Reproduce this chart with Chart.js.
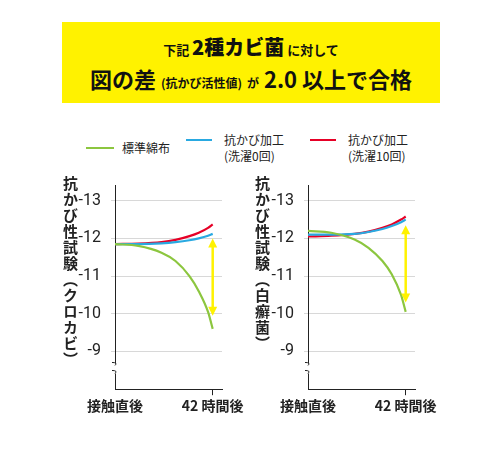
<!DOCTYPE html>
<html><head><meta charset="utf-8">
<script src="https://cdn.jsdelivr.net/npm/chart.js@4"></script>
<style>
body{margin:0;width:500px;height:455px;background:#fff;font-family:"Noto Sans CJK JP",sans-serif;position:relative;overflow:hidden}
.box{position:absolute;left:62px;top:22px;width:378px;height:81px;background:#fff200;text-align:center;font-weight:bold;color:#111}
.l1{position:absolute;top:10px;width:100%;font-size:13px}
.l1 b{font-size:20px}
.l2{position:absolute;top:40px;width:100%;font-size:22px}
.l2 small{font-size:12px}
.leg{position:absolute;font-size:12px;color:#222;line-height:16px}
.leg i{position:absolute;left:0;top:7px;width:26px;height:2px}
.vt{position:absolute;writing-mode:vertical-rl;font-size:15px;font-weight:bold;color:#222;letter-spacing:1px}
canvas{position:absolute}
</style></head><body>
<div class="box">
<div class="l1">下記 <b>2種カビ菌</b> に対して</div>
<div class="l2">図の差 <small>(抗かび活性値)</small> <small>が</small> 2.0 以上で合格</div>
</div>
<div class="leg" style="left:88px;top:140px"><i style="background:#8cc63f;left:-2px;top:7px;width:28px"></i><span style="margin-left:34px">標準綿布</span></div>
<div class="leg" style="left:186px;top:132px"><i style="background:#29a9e1;left:0;top:7px"></i><span style="display:block;margin-left:38px">抗かび加工<br>(洗濯0回)</span></div>
<div class="leg" style="left:310px;top:132px"><i style="background:#e60026;left:0;top:7px"></i><span style="display:block;margin-left:38px">抗かび加工<br>(洗濯10回)</span></div>
<canvas id="c1" width="215" height="250" style="left:55px;top:166px;width:215px;height:250px"></canvas>
<canvas id="c2" width="215" height="250" style="left:248px;top:166px;width:215px;height:250px"></canvas>
<div class="vt" style="left:60px;top:176px">抗かび性試験（クロカビ）</div>
<div class="vt" style="left:252px;top:176px">抗かび性試験（白癬菌）</div>
<script>
const hours = [0, 10, 20, 26, 32, 36, 40, 42];
const xTicks = [0, 42];
const xTickLabels = {0: "接触直後", 42: "42 時間後"};
const yTicks = [-13, -12, -11, -10, -9];

const kuroGreen = [-11.85, -11.8, -11.62, -11.4, -11.0, -10.6, -10.05, -9.6];
const kuroBlue = [-11.85, -11.85, -11.87, -11.9, -11.95, -12.0, -12.07, -12.12];
const kuroRed = [-11.85, -11.86, -11.9, -11.96, -12.06, -12.15, -12.28, -12.37];
const kuroArrow = [-12.0, -9.95];

const hakuGreen = [-12.2, -12.15, -11.97, -11.75, -11.4, -11.05, -10.5, -10.05];
const hakuBlue = [-12.1, -12.1, -12.12, -12.17, -12.25, -12.33, -12.43, -12.5];
const hakuRed = [-12.05, -12.07, -12.12, -12.18, -12.28, -12.37, -12.5, -12.58];
const hakuArrow = [-12.35, -10.3];

const pts = arr => arr.map((v, i) => ({x: hours[i], y: v}));

const extras = {
  id: "extras",
  afterDatasetsDraw(chart, args, opts) {
    const {ctx} = chart;
    const xs = chart.scales.x, ys = chart.scales.y;
    const x = xs.getPixelForValue(42);
    const y1 = ys.getPixelForValue(opts.arrow[0]), y2 = ys.getPixelForValue(opts.arrow[1]);
    ctx.save();
    ctx.strokeStyle = "#fff200"; ctx.fillStyle = "#fff200"; ctx.lineWidth = 2.5;
    ctx.beginPath(); ctx.moveTo(x, y1 + 4); ctx.lineTo(x, y2 - 4); ctx.stroke();
    [[y1, 1], [y2, -1]].forEach(([y, d]) => {
      ctx.beginPath(); ctx.moveTo(x, y); ctx.lineTo(x - 4.5, y + 9 * d); ctx.lineTo(x + 4.5, y + 9 * d); ctx.closePath(); ctx.fill();
    });
    // axis break
    const ax = xs.left, by = ys.getPixelForValue(-8.55);
    ctx.fillStyle = "#fff"; ctx.fillRect(ax - 3, by - 5, 6, 10);
    ctx.strokeStyle = "#222"; ctx.lineWidth = 1;
    [by - 4, by + 4].forEach(y => { ctx.beginPath(); ctx.moveTo(ax - 3, y - 2); ctx.quadraticCurveTo(ax + 3, y - 2, ax, y + 1); ctx.stroke(); });
    ctx.restore();
  }
};

function draw(id, g, b, r, arrow) {
  new Chart(document.getElementById(id), {
    type: "line",
    data: {datasets: [
      {data: pts(g), borderColor: "#8cc63f"},
      {data: pts(b), borderColor: "#29a9e1"},
      {data: pts(r), borderColor: "#e60026"}
    ]},
    options: {
      animation: false, responsive: false,
      layout: {padding: {top: 8, right: 48}},
      elements: {point: {radius: 0}, line: {borderWidth: 2.2, cubicInterpolationMode: "monotone"}},
      plugins: {legend: {display: false}, tooltip: {enabled: false}, extras: {arrow}},
      scales: {
        x: {type: "linear", min: 0, max: 46,
          afterBuildTicks: s => { s.ticks = xTicks.map(v => ({value: v})); },
          ticks: {callback: v => xTickLabels[v], color: "#222", font: {size: 14, weight: "bold", family: "Noto Sans CJK JP"}, maxRotation: 0, padding: 2},
          grid: {display: true, drawOnChartArea: false, tickLength: 6, color: c => c.tick && c.tick.value === 42 ? "#222" : "rgba(0,0,0,0)"},
          border: {color: "#222", width: 1}},
        y: {reverse: true, min: -13.4, max: -8,
          afterBuildTicks: s => { s.ticks = yTicks.map(v => ({value: v})); },
          afterFit: s => { s.width = 60; },
          ticks: {color: "#222", font: {size: 16, family: "Liberation Sans Narrow, Roboto"}, padding: 10},
          grid: {color: "#d8d8d8", drawTicks: true, tickLength: 4},
          border: {color: "#222", width: 1}}
      }
    },
    plugins: [extras]
  });
}
draw("c1", kuroGreen, kuroBlue, kuroRed, kuroArrow);
draw("c2", hakuGreen, hakuBlue, hakuRed, hakuArrow);
</script>
</body></html>
